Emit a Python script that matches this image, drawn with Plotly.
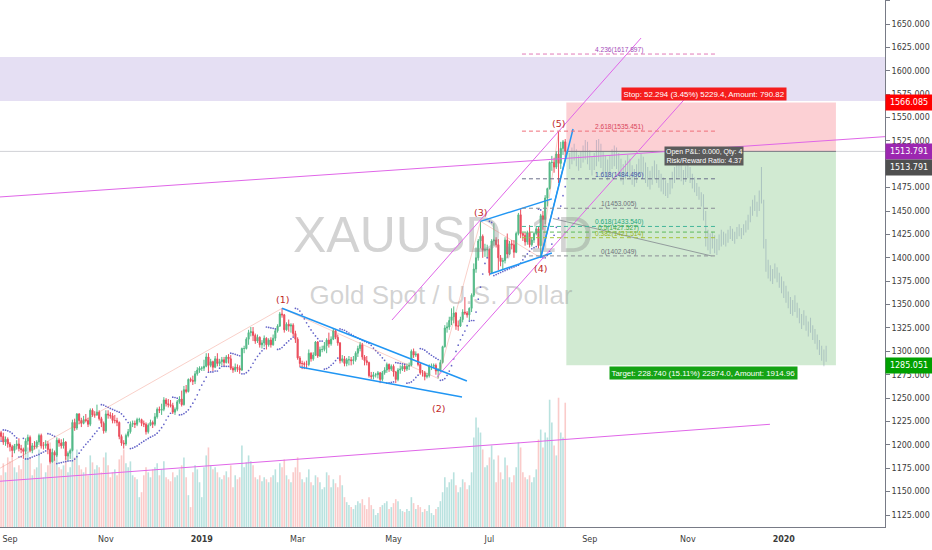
import numpy as np
import pandas as pd
import plotly.graph_objects as go

# ---------------- data ----------------
first_bar = "2018-08-27"
calendar = pd.bdate_range(first_bar, "2020-03-31")

opens = [
    1206,1213,1209,1203,1206,
    1201,1198,1194,1199,1201,1196,1195,1193,1204,1208,1194,1199,1198,1203,1210,1199,1199,1201,1195,1182,
    1192,1189,1205,1202,1199,1203,1188,1191,1194,1224,1218,1233,1226,1223,1227,1226,1222,1237,1232,1232,1235,1228,1223,
    1215,1233,1232,1231,1226,1226,1224,1209,1202,1201,1210,1214,1222,1223,1222,1227,1227,1223,1222,1214,1221,1224,
    1222,1230,1238,1237,1238,1248,1244,1243,1242,1235,1238,1246,1249,1243,1259,1257,1270,1269,1268,1276,1280,
    1282,1282,1284,1294,1285,1289,1283,1292,1287,1289,1291,1288,1294,1292,1282,1280,1283,1282,1280,1303,1303,1313,1320,
    1321,1317,1311,1315,1307,1309,1314,1307,1312,1307,1314,1322,1327,1340,1339,1323,1329,1327,1328,1319,
    1313,1293,1287,1287,1286,1286,1298,1292,1296,1310,1295,1302,1302,1306,1312,1308,1313,1322,1315,1309,1290,
    1292,1287,1291,1291,1290,1291,1298,1303,1307,1294,1290,1288,1274,1273,1275,1275,1277,1270,1277,1280,1286,1281,
    1284,1278,1270,1280,1281,1284,1281,1284,1285,1300,1296,1297,1286,1277,1277,1273,1274,1284,1284,1285,1279,1280,1288,
    1305,1325,1326,1333,1337,1341,1327,1327,1334,1342,1341,1339,1346,1360,1388,1400,1418,1423,1408,1409,
    1409,1384,1418,1419,1414,1400,1396,1397,1419,1404,1415,1414,1406,1426,1446,1426,1424,1417,1427,1414,1419,1426,1431,
    1413,1445,1441,1464,1474,1502,1502,1497,1511,1501,1517,1524,
]
highs = [
    1216,1215,1213,1209,1208,
    1203,1200,1201,1205,1207,1200,1197,1207,1211,1210,1202,1204,1205,1212,1212,1203,1205,1204,1196,1196,
    1194,1208,1207,1206,1207,1204,1193,1196,1227,1228,1234,1234,1229,1231,1233,1229,1239,1239,1236,1243,1237,1230,1225,
    1237,1237,1235,1234,1232,1229,1225,1211,1205,1212,1217,1225,1226,1226,1229,1229,1228,1226,1224,1223,1227,1226,
    1234,1240,1241,1244,1251,1250,1249,1248,1245,1240,1248,1252,1258,1263,1264,1271,1272,1274,1279,1283,1284,
    1284,1291,1298,1298,1292,1290,1295,1298,1292,1294,1294,1296,1297,1296,1284,1287,1286,1285,1304,1306,1315,1323,1326,
    1326,1319,1318,1316,1312,1317,1315,1314,1315,1318,1324,1329,1342,1346,1340,1331,1334,1330,1330,1322,
    1315,1295,1290,1289,1290,1302,1299,1299,1311,1311,1305,1306,1310,1314,1320,1316,1324,1324,1318,1310,1296,
    1295,1293,1295,1294,1295,1300,1306,1310,1309,1296,1295,1289,1278,1278,1277,1279,1278,1279,1283,1288,1287,1286,
    1286,1279,1282,1285,1286,1286,1287,1288,1302,1303,1300,1298,1288,1280,1279,1277,1286,1287,1287,1287,1282,1291,1306,
    1328,1331,1337,1346,1348,1342,1333,1337,1345,1358,1343,1347,1362,1394,1411,1420,1439,1425,1415,1414,
    1410,1420,1437,1422,1420,1403,1400,1422,1426,1418,1419,1419,1428,1448,1452,1427,1427,1429,1435,1422,1428,1434,1433,
    1447,1450,1467,1475,1503,1509,1507,1514,1535,1524,1526,1527,
]
lows = [
    1204,1205,1200,1199,1197,
    1193,1187,1191,1195,1193,1191,1185,1190,1200,1192,1191,1195,1196,1200,1196,1195,1196,1190,1180,1181,
    1183,1187,1198,1196,1196,1184,1183,1185,1193,1215,1216,1222,1219,1222,1224,1219,1220,1230,1229,1231,1226,1219,1212,
    1213,1228,1228,1223,1223,1220,1206,1199,1196,1199,1208,1212,1219,1218,1220,1224,1220,1219,1211,1212,1220,1218,
    1220,1228,1234,1232,1236,1241,1240,1240,1233,1232,1236,1244,1241,1242,1255,1256,1267,1264,1265,1274,1277,
    1279,1279,1283,1278,1283,1279,1282,1284,1284,1285,1284,1287,1287,1280,1277,1278,1278,1276,1279,1298,1302,1307,1316,
    1311,1308,1309,1304,1303,1305,1302,1305,1304,1306,1311,1320,1326,1336,1320,1322,1321,1320,1316,1309,
    1291,1283,1281,1281,1281,1284,1289,1290,1295,1293,1294,1299,1300,1298,1304,1306,1312,1313,1306,1287,1288,
    1284,1284,1285,1285,1286,1289,1294,1300,1291,1285,1285,1272,1270,1270,1272,1271,1266,1268,1275,1277,1278,1279,
    1273,1266,1268,1276,1279,1278,1279,1280,1284,1293,1294,1284,1275,1273,1269,1271,1272,1280,1282,1275,1271,1278,1287,
    1304,1320,1323,1328,1330,1323,1322,1326,1331,1339,1336,1333,1342,1358,1384,1397,1410,1400,1401,1400,
    1381,1383,1413,1411,1387,1391,1388,1394,1400,1403,1409,1400,1405,1424,1421,1418,1413,1414,1411,1412,1416,1424,1410,
    1400,1430,1436,1455,1473,1493,1491,1495,1480,1495,1510,1507,
]
closes = [
    1213,1209,1203,1206,1201,
    1198,1194,1199,1201,1196,1195,1193,1204,1208,1194,1199,1198,1203,1210,1199,1199,1201,1195,1182,1192,
    1189,1205,1202,1199,1203,1188,1191,1194,1224,1218,1233,1226,1223,1227,1226,1222,1237,1232,1232,1235,1228,1223,1215,
    1233,1232,1231,1226,1226,1224,1209,1202,1201,1210,1214,1222,1223,1222,1227,1227,1223,1222,1214,1221,1224,1222,
    1230,1238,1237,1238,1248,1244,1243,1242,1235,1238,1246,1249,1243,1259,1257,1270,1269,1268,1276,1280,1282,
    1282,1284,1294,1285,1289,1283,1292,1287,1289,1291,1288,1294,1292,1282,1280,1283,1282,1280,1303,1303,1313,1320,1321,
    1317,1311,1315,1307,1309,1314,1307,1312,1307,1314,1322,1327,1340,1339,1323,1329,1327,1328,1319,1313,
    1293,1287,1287,1286,1286,1298,1292,1296,1310,1295,1302,1302,1306,1312,1308,1313,1322,1315,1309,1290,1292,
    1287,1291,1291,1290,1291,1298,1303,1307,1294,1290,1288,1274,1273,1275,1275,1277,1270,1277,1280,1286,1281,1284,
    1278,1270,1280,1281,1284,1281,1284,1285,1300,1296,1297,1286,1277,1277,1273,1274,1284,1284,1285,1279,1280,1288,1305,
    1325,1326,1333,1337,1341,1327,1327,1334,1342,1341,1339,1346,1360,1388,1400,1418,1423,1408,1409,1409,
    1384,1418,1419,1414,1400,1396,1397,1419,1404,1415,1414,1406,1426,1446,1426,1424,1417,1427,1414,1419,1426,1431,1413,
    1445,1441,1464,1474,1502,1502,1497,1511,1501,1517,1524,1513.791,
]
volume_k = [
    58,52,64,55,70,
    66,72,60,55,62,58,68,75,80,70,52,58,60,78,64,50,55,62,85,72,
    68,75,60,58,62,70,55,60,92,70,78,62,58,55,60,52,72,65,58,62,60,55,70,
    75,62,50,55,58,52,68,72,78,64,60,66,52,50,48,30,35,52,60,55,50,58,
    60,64,52,58,66,50,48,46,55,50,52,58,62,70,50,32,20,55,62,58,45,
    30,60,72,80,62,58,60,55,50,48,52,56,50,62,40,52,48,50,82,60,65,72,66,
    62,50,48,52,46,50,48,45,50,52,58,45,64,60,68,52,48,45,55,60,
    70,55,48,45,50,58,45,42,52,50,45,38,40,55,52,40,48,44,40,52,42,
    30,25,22,20,18,22,26,24,28,22,18,30,22,18,12,14,20,22,24,26,18,20,
    24,28,26,18,16,15,18,16,30,24,18,22,20,15,18,16,22,14,12,18,20,26,35,
    50,40,45,48,55,42,35,40,48,45,38,42,55,90,110,100,95,78,60,62,
    70,82,68,45,72,55,48,70,62,50,45,52,60,85,80,55,50,48,52,45,50,58,88,
    98,80,95,90,128,105,82,72,130,95,90,125,
]

# projected ("bars pattern") ghost bars after the last real bar
ghost_first = 256
ghost_high = [
    1512,1518,1522,1516,1510,1514,1520,1526,1524,1515,
    1508,1512,1526,1527,1522,1514,1509,1505,1510,1516,
    1520,1518,1512,1506,1500,1504,1510,1506,1499,1495,
    1500,1506,1511,1508,1502,1497,1493,1498,1504,1500,
    1494,1490,1486,1483,1480,1485,1492,1497,1501,1503,
    1499,1494,1498,1502,1497,1490,1486,1480,1476,1470,
    1468,1450,1430,1426,1428,1424,1420,1425,1430,1428,
    1426,1430,1434,1431,1428,1433,1436,1432,1436,1440,
    1446,1455,1462,1467,1460,1472,1497,1462,1420,1398,
    1392,1388,1394,1390,1384,1380,1375,1370,1364,1358,
    1355,1360,1352,1346,1340,1344,1338,1332,1336,1328,
    1324,1318,1312,1306,1302,1306,
]
ghost_low = [
    1495,1500,1504,1498,1493,1496,1502,1505,1500,1494,
    1488,1494,1498,1503,1496,1490,1486,1483,1489,1495,
    1498,1495,1488,1482,1478,1484,1490,1485,1478,1476,
    1480,1486,1490,1487,1480,1476,1473,1478,1484,1480,
    1475,1471,1468,1466,1464,1468,1474,1480,1484,1486,
    1482,1478,1481,1485,1480,1474,1470,1466,1462,1455,
    1440,1412,1408,1404,1410,1405,1403,1408,1412,1414,
    1412,1416,1420,1418,1415,1420,1423,1420,1424,1427,
    1430,1438,1445,1450,1444,1450,1458,1410,1385,1378,
    1375,1372,1378,1374,1368,1362,1357,1352,1346,1340,
    1338,1342,1336,1330,1324,1328,1322,1316,1320,1312,
    1308,1302,1296,1290,1284,1289,
]

fib_ratio_labels = ["4.236", "2.618", "1.618", "1", "0.618", "0.5", "0.382", "0"]
fib_prices = [1617.897, 1535.451, 1484.496, 1453.005, 1433.540, 1427.527, 1421.514, 1402.049]

entry_price = 1513.791
stop_price = 1566.085
target_price = 1285.051
resistance_zone = [1567.7, 1614.7]

tick_months = ["2018-09-01", "2018-11-01", "2019-01-01", "2019-03-01", "2019-05-01",
               "2019-07-01", "2019-09-01", "2019-11-01", "2020-01-01"]
tick_labels = ["Sep", "Nov", "<b>2019</b>", "Mar", "May", "Jul", "Sep", "Nov", "<b>2020</b>"]

stop_text = "Stop: 52.294 (3.45%) 5229.4, Amount: 790.82"
target_text = "Target: 228.740 (15.11%) 22874.0, Amount: 1914.96"
pnl_text = "Open P&L: 0.000, Qty: 4<br>Risk/Reward Ratio: 4.37"

n = len(closes)
assert len(opens) == n and len(highs) == n and len(lows) == n and len(volume_k) == n
assert len(ghost_high) == len(ghost_low)
xi = list(range(n))
gx = list(range(ghost_first, ghost_first + len(ghost_high)))
tickvals = [int(calendar.searchsorted(pd.Timestamp(d))) for d in tick_months]


# Parabolic SAR (indicator computed from the bars)
def psar(h, l, af0=0.02, step=0.02, afmax=0.2):
    out = [None] * len(h)
    bull, af, ep = True, af0, h[0]
    out[0] = l[0]
    for i in range(1, len(h)):
        prev = out[i - 1]
        s = prev + af * (ep - prev)
        if bull:
            s = min(s, l[i - 1], l[max(i - 2, 0)])
            if l[i] < s:
                bull, s, ep, af = False, ep, l[i], af0
            elif h[i] > ep:
                ep, af = h[i], min(af + step, afmax)
        else:
            s = max(s, h[i - 1], h[max(i - 2, 0)])
            if h[i] > s:
                bull, s, ep, af = True, ep, h[i], af0
            elif l[i] < ep:
                ep, af = l[i], min(af + step, afmax)
        out[i] = s
    return out


sar = psar(highs, lows)

UP, DN = "#53b987", "#eb4d5c"
vol_colors = ["rgba(38,166,154,0.32)" if c >= o else "rgba(239,83,80,0.30)"
              for o, c in zip(opens, closes)]

fig = go.Figure()
fig.add_trace(go.Bar(x=xi, y=volume_k, marker_color=vol_colors, marker_line_width=0,
                     width=0.72, yaxis="y", hoverinfo="skip"))
# watermark (behind candles)
fig.add_trace(go.Scatter(x=[199.2, 198.3], y=[1420.0, 1358.0], mode="text",
                         text=["XAUUSD, 1D", "Gold Spot / U.S. Dollar"],
                         textfont=dict(family="Liberation Sans", size=[50, 26],
                                       color="rgba(140,140,140,0.38)"),
                         yaxis="y2", hoverinfo="skip", cliponaxis=False))
fig.add_trace(go.Candlestick(x=xi, open=opens, high=highs, low=lows, close=closes,
                             increasing=dict(line=dict(color=UP, width=1), fillcolor=UP),
                             decreasing=dict(line=dict(color=DN, width=1), fillcolor=DN),
                             whiskerwidth=0, yaxis="y2", hoverinfo="skip"))
fig.add_trace(go.Scatter(x=xi, y=sar, mode="markers",
                         marker=dict(size=1.7, color="rgba(72,72,190,0.85)"),
                         yaxis="y2", hoverinfo="skip"))
fig.add_trace(go.Bar(x=gx, y=np.subtract(ghost_high, ghost_low), base=ghost_low,
                     width=0.45, marker_color="rgba(105,128,160,0.36)", marker_line_width=0,
                     yaxis="y2", hoverinfo="skip"))

shapes = []


def seg(x0, y0, x1, y1, color, width=1.0, dash=None, xref="x"):
    shapes.append(dict(type="line", xref=xref, yref="y2", x0=x0, y0=y0, x1=x1, y1=y1,
                       line=dict(color=color, width=width, dash=dash)))


box_x0, box_x1 = 254.5, 375.4
shapes.append(dict(type="rect", xref="paper", yref="y2", x0=0, x1=1,
                   y0=resistance_zone[0], y1=resistance_zone[1],
                   fillcolor="#e5dff3", line=dict(width=0), layer="below"))
shapes.append(dict(type="rect", xref="x", yref="y2", x0=box_x0, x1=box_x1,
                   y0=entry_price, y1=stop_price,
                   fillcolor="rgba(242,54,69,0.23)", line=dict(width=0), layer="below"))
shapes.append(dict(type="rect", xref="x", yref="y2", x0=box_x0, x1=box_x1,
                   y0=target_price, y1=entry_price,
                   fillcolor="rgba(76,175,80,0.26)", line=dict(width=0), layer="below"))

# last price line + entry line
seg(0, entry_price, 1, entry_price, "rgba(120,123,134,0.35)", 1, xref="paper")
seg(box_x0, entry_price, box_x1, entry_price, "#7d7f88", 1)

# elliott wave points
w1, w2, w3, w4, w5 = 127, 197, 216, 243, 251
wave = [(0.5, 1175.0), (w1, highs[w1]), (w2, lows[w2]), (w3, highs[w3]),
        (w4, lows[w4]), (w5, highs[w5])]
for (a, b), (c, d) in zip(wave[:-1], wave[1:]):
    seg(a, b, c, d, "rgba(239,120,100,0.35)", 1)

# magenta trend lines / channel
PINK = "#e066e8"
seg(0, 1465.0, 400, 1530.0, PINK, 1)
seg(0, 1161.0, 345.8, 1222.0, PINK, 1)
seg(176.3, 1333.5, 288.0, 1635.0, PINK, 1)
seg(196.5, 1272.6, 307.2, 1568.8, PINK, 1)

# blue pattern lines
BLUE = "#2196f3"
seg(w1, highs[w1], 209.9, 1268.3, BLUE, 1.5)
seg(135.0, 1283.3, 207.7, 1251.2, BLUE, 1.5)
seg(w3, highs[w3], 248.0, 1463.0, BLUE, 1.5)
seg(220.2, 1382.7, 248.0, 1405.2, BLUE, 1.5)
seg(w4, lows[w4], 257.5, 1537.7, BLUE, 1.5)
seg(w4, lows[w4], 254.8, 1513.0, BLUE, 1.2)

# fib extension
fib_x0, fib_x1 = 234.6, 321.6
seg(248.5, 1442.0, 319.5, fib_prices[-1], "rgba(120,123,134,0.7)", 1)
fib_line_colors = ["#e27ab8", "#ef6f7a", "#6b6f8a", "#8a8d96", "#43b59a", "#5cb85c", "#a6c23a", "#8a8d96"]
fib_text_colors = ["#a54bb8", "#d9435a", "#3f4fa8", "#6d7079", "#22a67a", "#45a845", "#98b21e", "#6d7079"]
annotations = []
for lab, p, lc, tc in zip(fib_ratio_labels, fib_prices, fib_line_colors, fib_text_colors):
    seg(fib_x0, p, fib_x1, p, lc, 1, dash="4px,3px")
    annotations.append(dict(x=(fib_x0 + fib_x1) / 2, y=p, xref="x", yref="y2",
                            text=f"{lab}({p:.3f})", showarrow=False, yanchor="middle", yshift=4,
                            font=dict(family="Liberation Sans", size=6.6, color=tc)))

# elliott labels
for k, (pt, ysh) in enumerate(zip(wave[1:], [9, -30, 9, -11, 8]), start=1):
    annotations.append(dict(x=pt[0], y=pt[1], xref="x", yref="y2", text=f"({k})",
                            showarrow=False, yshift=ysh,
                            font=dict(family="DejaVu Sans", size=9.5, color="#c0281f")))

box_mid = (box_x0 + box_x1) / 2
annotations.append(dict(x=box_mid + 1.5, y=stop_price, xref="x", yref="y2", text=stop_text,
                        showarrow=False, yanchor="bottom", yshift=1, bgcolor="#f51d1d",
                        borderpad=1.5, font=dict(family="Liberation Sans", size=7.9, color="white")))
annotations.append(dict(x=box_mid + 1, y=target_price, xref="x", yref="y2", text=target_text,
                        showarrow=False, yanchor="top", yshift=-1, bgcolor="#15a315",
                        borderpad=1.5, font=dict(family="Liberation Sans", size=7.9, color="white")))
annotations.append(dict(x=box_mid + 1.2, y=entry_price, xref="x", yref="y2", text=pnl_text,
                        showarrow=False, yanchor="middle", yshift=-5, bgcolor="#5b5b5b",
                        borderpad=1, font=dict(family="Liberation Sans", size=7, color="white")))

# price badges on the right scale
for price, col, ysh in [(stop_price, "#ff0000", 0), (entry_price, "#9c27b0", 0),
                        (entry_price, "#4f4f4f", -16), (target_price, "#00a000", 0)]:
    annotations.append(dict(x=1, y=price, xref="paper", yref="y2", text=f"{price:.3f}",
                            showarrow=False, xanchor="left", yanchor="middle", yshift=ysh,
                            width=45, height=14, bgcolor=col, borderpad=0.5,
                            font=dict(family="DejaVu Sans", size=8, color="white")))

AX = "#787b86"
fig.update_layout(
    width=932, height=550,
    margin=dict(l=0, r=47, t=0, b=23),
    paper_bgcolor="white", plot_bgcolor="white",
    showlegend=False, hovermode=False, barmode="overlay",
    shapes=shapes, annotations=annotations,
    xaxis=dict(range=[0.52, 397.4], tickvals=tickvals, ticktext=tick_labels,
               showgrid=False, zeroline=False, showline=True, linecolor=AX, linewidth=1,
               ticks="outside", ticklen=4, tickcolor="rgba(0,0,0,0)",
               tickfont=dict(family="DejaVu Sans", size=8, color="#3b3b3b"),
               rangeslider=dict(visible=False), fixedrange=True),
    yaxis=dict(range=[0, 530], visible=False, fixedrange=True),
    yaxis2=dict(overlaying="y", side="right", range=[1112.17, 1675.68],
                tick0=1125, dtick=25, tickformat=".3f",
                showgrid=False, zeroline=False, showline=True, linecolor=AX, linewidth=1,
                ticks="outside", ticklen=4, tickcolor=AX,
                tickfont=dict(family="DejaVu Sans", size=8, color="#3b3b3b"), fixedrange=True),
)

fig.write_html("out.html", config={"displayModeBar": False},
               post_script="document.body.style.margin='0px';document.body.style.overflow='hidden';")
